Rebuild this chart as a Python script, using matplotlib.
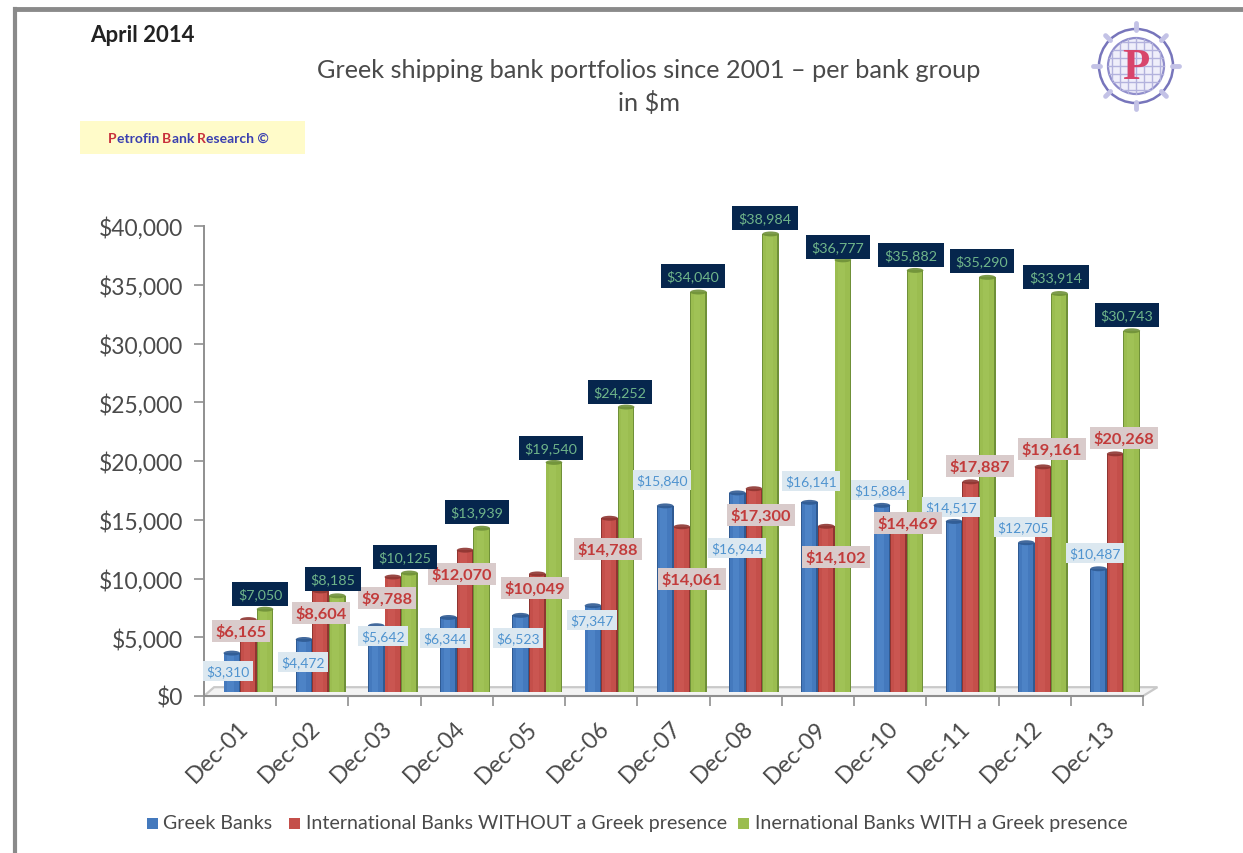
import matplotlib
matplotlib.use("Agg")
import matplotlib.pyplot as plt
from matplotlib.patches import Rectangle, Ellipse, Circle, Polygon
from matplotlib.ticker import FuncFormatter
from matplotlib.lines import Line2D
import numpy as np

plt.rcParams['font.family'] = ['Lato', 'DejaVu Sans']

# ---- data ----
categories = ['Dec-01', 'Dec-02', 'Dec-03', 'Dec-04', 'Dec-05', 'Dec-06', 'Dec-07',
              'Dec-08', 'Dec-09', 'Dec-10', 'Dec-11', 'Dec-12', 'Dec-13']
greek_banks = [3310, 4472, 5642, 6344, 6523, 7347, 15840, 16944, 16141, 15884, 14517, 12705, 10487]
intl_without = [6165, 8604, 9788, 12070, 10049, 14788, 14061, 17300, 14102, 14469, 17887, 19161, 20268]
intl_with = [7050, 8185, 10125, 13939, 19540, 24252, 34040, 38984, 36777, 35882, 35290, 33914, 30743]
series_names = ['Greek Banks', 'International Banks WITHOUT a Greek presence',
                'Inernational Banks WITH a Greek presence']
title_lines = ['Greek shipping bank portfolios since 2001 – per bank group', 'in $m']

# ---- layout (pixels of the 1243x854 picture) ----
W, H = 1243, 854
blue_pos = [(228,672),(303,663),(383,637),(445,639),(518,639),(592,621),(662,481),
            (737,549),(811,482),(880,491),(951,508),(1023,528),(1095,554)]
red_pos = [(241,632),(321,614),(387,599),(462,575),(535,589),(608,550),(692,580),
           (761,516),(836,558),(908,524),(980,467),(1052,450),(1124,439)]
green_pos = [(260,595),(333,580),(405,558),(477,513),(551,449),(620,393),(693,277),
             (765,219),(838,248),(911,256),(982,262),(1056,278),(1127,316)]
TXT = '#4a4a4a'
colors = ['#4479BD', '#C44F4A', '#9BBD50']
darks = ['#2F5A92', '#8E3531', '#6F9038']
lights = ['#5B94D6', '#D4625C', '#AACC60']
label_fg = ['#4F93CF', '#C23B3B', '#6FB58A']
label_bg = ['#DCE8F0', '#D9CBCB', '#06264D']

fig = plt.figure(figsize=(W/100, H/100), dpi=100, facecolor='white')
def fx(x): return x / W
def fy(y): return 1 - y / H

ax = fig.add_axes([fx(204), fy(697), (1143-204)/W, (697-227)/H])
ax.set_xlim(-0.5, 12.5)
ax.set_ylim(0, 40000)
ax.patch.set_alpha(0)
for s in ['top', 'right']:
    ax.spines[s].set_visible(False)
for s in ['left', 'bottom']:
    ax.spines[s].set_color('#8f8f8f')
    ax.spines[s].set_linewidth(1.4)
ax.set_yticks(np.arange(0, 40001, 5000))
ax.yaxis.set_major_formatter(FuncFormatter(lambda v, p: f'${v:,.0f}'))
ax.tick_params(axis='y', length=7, width=1.2, color='#8f8f8f', labelsize=16.5, labelcolor=TXT, pad=8)
ax.set_xticks(np.arange(-0.5, 12.6, 1))
ax.set_xticklabels([])
ax.tick_params(axis='x', length=7, width=1.2, color='#8f8f8f')
for i, c in enumerate(categories):
    ax.annotate(c, xy=(i, 0), xycoords=('data', 'axes fraction'), xytext=(-2, -15),
                textcoords='offset points', rotation=45, rotation_mode='anchor',
                ha='right', va='top', fontsize=16.8, color=TXT)

# floor of the 3-D chart
floor = Polygon([(-0.5, 0), (-0.36, 750), (12.7, 750), (12.5, 0)], closed=True,
                facecolor='#f3f3f3', edgecolor='#c9c9c9', lw=1.6, zorder=1, clip_on=False)
ax.add_patch(floor)
ax.plot([-0.5, 12.5], [0, 0], color='#8f8f8f', lw=1.4, zorder=1.5, clip_on=False)

# bars
base = 340
w = 0.23
off = 0.115
for k, vals in enumerate([greek_banks, intl_without, intl_with]):
    xs = np.arange(len(vals)) + off + (k - 1) * w
    ax.bar(xs, vals, w, bottom=base, color=darks[k], zorder=3 + k * 0.1, clip_on=False)
    ax.bar(xs - 0.005, vals, w * 0.86, bottom=base, color=colors[k], zorder=3.01 + k * 0.1, clip_on=False)
    ax.bar(xs - 0.02, vals, w * 0.4, bottom=base, color=lights[k], alpha=0.4, zorder=3.02 + k * 0.1, clip_on=False)
    for x, v in zip(xs, vals):
        ax.add_patch(Ellipse((x, v + base), w, 420, facecolor=darks[k], alpha=0.9,
                             edgecolor='none', zorder=3.03 + k * 0.1, clip_on=False))

# data labels
label_style = [(10.0, 'normal', 0.25), (11.8, 'bold', 0.22), (10.3, 'normal', 0.42)]
for vals, pos, fg, bg, (fs, weight, pad) in zip([greek_banks, intl_without, intl_with],
                                                [blue_pos, red_pos, green_pos],
                                                label_fg, label_bg, label_style):
    for v, (px, py) in zip(vals, pos):
        fig.text(fx(px), fy(py), f'${v:,.0f}', ha='center', va='center', color=fg,
                 fontsize=fs, fontweight=weight,
                 bbox=dict(boxstyle=f'square,pad={pad}', facecolor=bg, edgecolor='none'), zorder=5)

# header
fig.text(fx(90), fy(35), 'April 2014', fontsize=16, fontweight='bold', color='#222222', ha='left', va='center')
fig.text(fx(649), fy(70), title_lines[0], fontsize=18.2, color=TXT, ha='center', va='center')
fig.text(fx(649), fy(103), title_lines[1], fontsize=18.2, color=TXT, ha='center', va='center')

# frame
fig.add_artist(Line2D([fx(15), fx(15)], [fy(10), fy(854)], color='#8a8a8a', lw=3))
fig.add_artist(Line2D([fx(15), fx(1243)], [fy(10), fy(10)], color='#8a8a8a', lw=3.5))

# research tag
fig.add_artist(Rectangle((fx(80), fy(155)), 225/W, 33/H, transform=fig.transFigure,
                         facecolor='#FFFBC9', edgecolor='none'))
renderer = fig.canvas.get_renderer()
cx = 108
tag_size = 10
for piece, col in [('P', '#C8303C'), ('etrofin ', '#3A3FB0'), ('B', '#C8303C'), ('ank ', '#3A3FB0'),
                   ('R', '#C8303C'), ('esearch ©', '#3A3FB0')]:
    fig.text(fx(cx), fy(139), piece, fontsize=tag_size, fontweight='bold',
             color=col, ha='left', va='center')
    probe = fig.text(0, 0, piece.replace(' ', 'i'), fontsize=tag_size, fontweight='bold')
    cx += probe.get_window_extent(renderer).width
    probe.remove()

# logo
lax = fig.add_axes([fx(1136-50), fy(67+50), 100/W, 100/H])
lax.set_xlim(-50, 50); lax.set_ylim(-50, 50); lax.axis('off')
for a in np.arange(0, 360, 45):
    ca, sa = np.cos(np.radians(a)), np.sin(np.radians(a))
    lax.plot([36*ca, 43*ca], [36*sa, 43*sa], color='#C3C2E6', lw=3.5, solid_capstyle='round')
lax.add_patch(Circle((0, 0), 37, facecolor='white', edgecolor='#7775BB', lw=1.8))
lax.add_patch(Circle((0, 0), 28, facecolor='#EFEEFA', edgecolor='#8F8DCB', lw=1.6))
for r in np.arange(-24, 25, 8):
    h = np.sqrt(28**2 - r**2)
    lax.plot([-h, h], [r, r], color='#B3B2DD', lw=1)
    lax.plot([r, r], [-h, h], color='#B3B2DD', lw=1)
lax.text(0, -1, 'P', family='Liberation Serif', fontsize=32, fontweight='bold', color='#D8456B', ha='center', va='center')

# legend
legend_x = [147, 289, 738]
text_x = [163, 306, 755]
for k, name in enumerate(series_names):
    fig.add_artist(Rectangle((fx(legend_x[k]), fy(830)), 11/W, 11/H, transform=fig.transFigure,
                             facecolor=colors[k], edgecolor='none'))
    fig.text(fx(text_x[k]), fy(824), name, fontsize=14.1, color=TXT, ha='left', va='center')

fig.savefig('out.png', dpi=100)
